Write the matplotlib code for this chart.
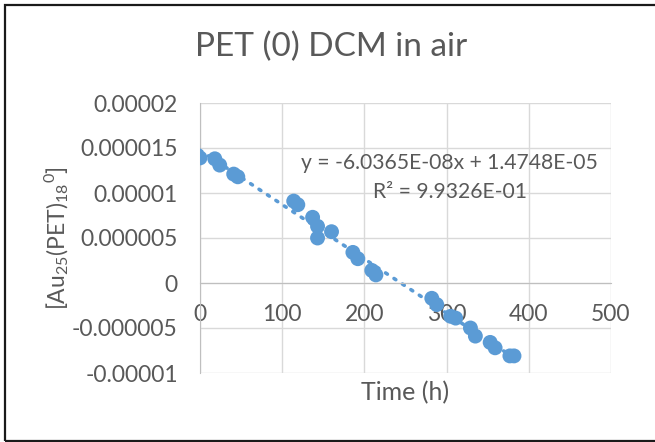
import matplotlib
matplotlib.use("Agg")
import matplotlib.pyplot as plt
from matplotlib.patches import Rectangle
import numpy as np

plt.rcParams['font.family'] = ['Lato', 'DejaVu Sans']
plt.rcParams['mathtext.fontset'] = 'custom'
plt.rcParams['mathtext.rm'] = 'Lato'

# Cluster concentration vs. time
time_h = [0, 18, 24, 41, 46, 114, 119, 137, 143, 143, 160, 186, 192, 209, 214,
          282, 288, 305, 311, 329, 335, 353, 359, 377, 382]
conc = [1.39e-5, 1.38e-5, 1.31e-5, 1.21e-5, 1.18e-5, 0.91e-5, 0.87e-5, 0.73e-5,
        0.63e-5, 0.50e-5, 0.57e-5, 0.34e-5, 0.27e-5, 0.14e-5, 0.09e-5,
        -0.17e-5, -0.24e-5, -0.37e-5, -0.39e-5, -0.50e-5, -0.59e-5, -0.66e-5,
        -0.72e-5, -0.81e-5, -0.81e-5]

# Linear fit reported on the chart
slope = -6.0365e-08
intercept = 1.4748e-05
r_squared = 9.9326e-01

x_ticks = [0, 100, 200, 300, 400, 500]
y_ticks = [-0.00001, -0.000005, 0, 0.000005, 0.00001, 0.000015, 0.00002]
y_tick_labels = ['-0.00001', '-0.000005', '0', '0.000005', '0.00001', '0.000015', '0.00002']

blue = '#5B9BD5'
text_col = '#595959'
grid_col = '#D9D9D9'
axis_col = '#BFBFBF'

fig = plt.figure(figsize=(6.55, 4.42), dpi=100)
ax = fig.add_axes([200 / 655, 1 - 373 / 442, 411 / 655, 270 / 442])

ax.set_xlim(0, 500)
ax.set_ylim(-0.00001, 0.00002)
ax.set_xticks(x_ticks)
ax.set_yticks(y_ticks)
ax.set_yticklabels(y_tick_labels)
ax.grid(True, color=grid_col, linewidth=1.0, zorder=0)
ax.set_axisbelow(True)

for side in ['top', 'right']:
    ax.spines[side].set_visible(False)
ax.spines['bottom'].set_position(('data', 0))
ax.spines['bottom'].set_color(axis_col)
ax.spines['left'].set_color(axis_col)
ax.spines['left'].set_zorder(1)
ax.tick_params(length=0, labelsize=16.5, labelcolor=text_col)
ax.tick_params(axis='y', pad=16)
ax.tick_params(axis='x', pad=15)

# trendline
xf = np.array([min(time_h), max(time_h)])
ax.plot(xf, slope * xf + intercept, linestyle=(0, (0.6, 2.2)), color=blue,
        linewidth=2.6, dash_capstyle='round', zorder=2)

ax.scatter(time_h, conc, s=115, color=blue, edgecolors='none', zorder=3)

eq_text = f'y = {slope:.4E}x + {intercept:.4E}'
r2_text = f'R² = {r_squared:.4E}'
ax.text(304, 0.00001333, eq_text, ha='center', va='center',
        fontsize=15.2, color=text_col, zorder=4)
ax.text(304, 0.00001011, r2_text, ha='center', va='center',
        fontsize=15.2, color=text_col, zorder=4)

fig.text(331 / 655, 1 - 47 / 442, 'PET (0) DCM in air', ha='center', va='center',
         fontsize=24, color=text_col)
fig.text(405.5 / 655, 1 - 393 / 442, 'Time (h)', ha='center', va='center',
         fontsize=18, color=text_col)
fig.text(57 / 655, 1 - 238 / 442, r'[Au$_{25}$(PET)$_{18}$$^{0}$]', ha='center',
         va='center', rotation=90, fontsize=16.5, color=text_col)

# chart frame
fig.patches.append(Rectangle((5 / 655, 1 - 440.5 / 442), 700 / 655, 436 / 442,
                             transform=fig.transFigure, fill=False,
                             edgecolor='#1a1a1a', linewidth=1.6))

fig.savefig('out.png', dpi=100)
